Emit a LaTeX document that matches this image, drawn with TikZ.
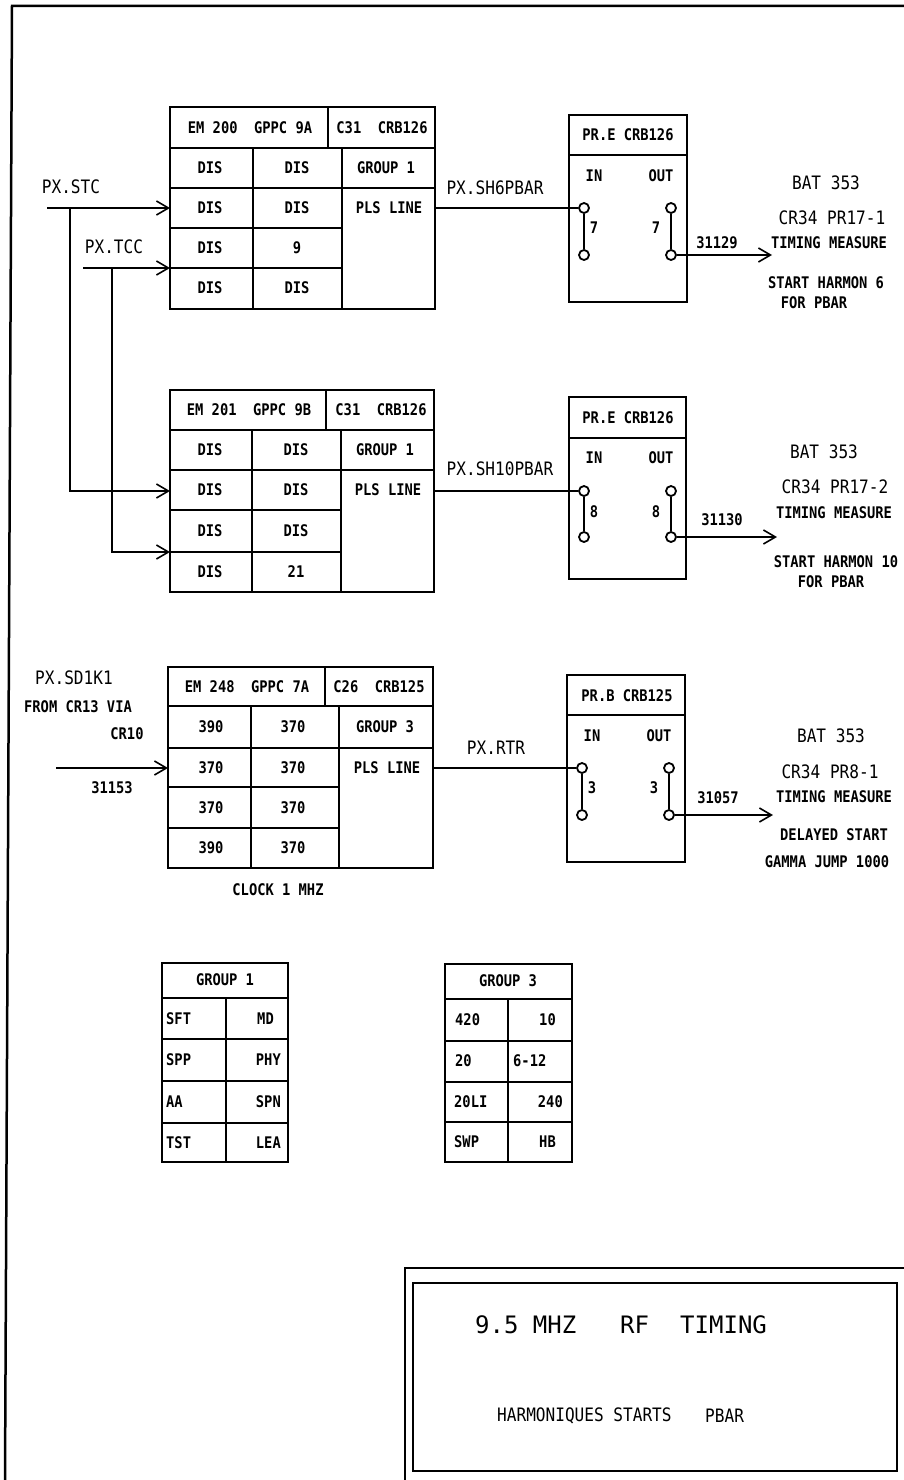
\documentclass[tikz,border=0pt]{standalone}
\usepackage{fontspec}
\usepackage{tikz}
\usetikzlibrary{arrows.meta}
\newfontfamily\tagfam[FakeStretch=0.86]{DejaVu Sans Mono}
\newfontfamily\labfam[FakeStretch=0.87]{DejaVu Sans Mono}
\newfontfamily\headfam{DejaVu Sans Mono}
\newcommand{\tagfont}{\tagfam\bfseries\fontsize{16}{16}\selectfont}
\newcommand{\labfont}{\labfam\fontsize{18.5}{19}\selectfont}
\newcommand{\headfont}{\headfam\fontsize{24}{25}\selectfont}

\begin{document}
\begin{tikzpicture}[x=1pt, y=-1pt,
  frame/.style={line width=2pt},
  grid/.style={line width=1.5pt},
  sig/.style={line width=1.6pt},
  sigarrow/.style={sig, -{Straight Barb[length=12pt, width=14pt]}},
  term/.style={circle, draw, line width=1.8pt, minimum size=10pt, inner sep=0pt},
  tag/.style={font=\tagfont, inner sep=0pt},
  lab/.style={font=\labfont, inner sep=0pt},
  head/.style={font=\headfont, inner sep=0pt}]

  % Page frame
  \useasboundingbox (0,0) rectangle (904,1480);
  \draw[line width=2.5pt] (904,6) -- (12,6) -- (5,1480);

  % EM 200 block
  \begin{scope}[shift={(170,107)}]
    \draw[frame] (0,0) rectangle (265,202);
    \draw[grid] (0,41) -- (265,41) (158,0) -- (158,41) (0,81) -- (265,81)
                (0,121) -- (172,121) (0,161) -- (172,161)
                (83,41) -- (83,202) (172,41) -- (172,202);
    \node[tag] (em200h1) at (80,21) {EM 200~~GPPC 9A};
    \node[tag] (em200h2) at (212,21) {C31~~CRB126};
    \foreach \r/\a/\b [count=\i] in {61/DIS/DIS, 101/DIS/DIS, 141/DIS/9, 181/DIS/DIS} {
      \node[tag] (em200a\i) at (40,\r) {\a};
      \node[tag] (em200b\i) at (127,\r) {\b};
    }
    \node[tag] (em200grp) at (216,61) {GROUP 1};
    \node[tag] (em200pls) at (219,101) {PLS LINE};
    \coordinate (em200in) at (0,101);
    \coordinate (em200low) at (0,161);
    \coordinate (em200out) at (265,101);
  \end{scope}

  % EM 201 block
  \begin{scope}[shift={(170,390)}]
    \draw[frame] (0,0) rectangle (264,202);
    \draw[grid] (0,40) -- (264,40) (156,0) -- (156,40) (0,80) -- (264,80)
                (0,120) -- (171,120) (0,162) -- (171,162)
                (82,40) -- (82,202) (171,40) -- (171,202);
    \node[tag] (em201h1) at (79,20) {EM 201~~GPPC 9B};
    \node[tag] (em201h2) at (211,20) {C31~~CRB126};
    \foreach \r/\a/\b [count=\i] in {60/DIS/DIS, 100/DIS/DIS, 141/DIS/DIS, 182/DIS/21} {
      \node[tag] (em201a\i) at (40,\r) {\a};
      \node[tag] (em201b\i) at (126,\r) {\b};
    }
    \node[tag] (em201grp) at (215,60) {GROUP 1};
    \node[tag] (em201pls) at (218,100) {PLS LINE};
    \coordinate (em201in) at (0,101);
    \coordinate (em201low) at (0,162);
    \coordinate (em201out) at (264,101);
  \end{scope}

  % EM 248 block
  \begin{scope}[shift={(168,667)}]
    \draw[frame] (0,0) rectangle (265,201);
    \draw[grid] (0,39) -- (265,39) (157,0) -- (157,39) (0,81) -- (265,81)
                (0,120) -- (171,120) (0,161) -- (171,161)
                (83,39) -- (83,201) (171,39) -- (171,201);
    \node[tag] (em248h1) at (79,20) {EM 248~~GPPC 7A};
    \node[tag] (em248h2) at (211,20) {C26~~CRB125};
    \foreach \r/\a/\b [count=\i] in {60/390/370, 101/370/370, 141/370/370, 181/390/370} {
      \node[tag] (em248a\i) at (43,\r) {\a};
      \node[tag] (em248b\i) at (125,\r) {\b};
    }
    \node[tag] (em248grp) at (217,60) {GROUP 3};
    \node[tag] (em248pls) at (219,101) {PLS LINE};
    \coordinate (em248in) at (0,101);
    \coordinate (em248out) at (265,101);
  \end{scope}
  \node[tag] (clock) at (278,890) {CLOCK 1 MHZ};

  % PR.E block 1
  \begin{scope}[shift={(569,115)}]
    \draw[frame] (0,0) rectangle (118,187);
    \draw[grid] (0,40) -- (118,40);
    \node[tag] (pr1h) at (59,20) {PR.E CRB126};
    \node[tag] (pr1in) at (25,61) {IN};
    \node[tag] (pr1out) at (92,61) {OUT};
    \node[term] (pr1ia) at (15,93) {};
    \node[term] (pr1ib) at (15,140) {};
    \node[term] (pr1oa) at (102,93) {};
    \node[term] (pr1ob) at (102,140) {};
    \draw[sig] (pr1ia) -- (pr1ib) (pr1oa) -- (pr1ob);
    \node[tag] (pr1n1) at (25,113) {7};
    \node[tag] (pr1n2) at (87,113) {7};
  \end{scope}

  % PR.E block 2
  \begin{scope}[shift={(569,397)}]
    \draw[frame] (0,0) rectangle (117,182);
    \draw[grid] (0,41) -- (117,41);
    \node[tag] (pr2h) at (59,21) {PR.E CRB126};
    \node[tag] (pr2in) at (25,61) {IN};
    \node[tag] (pr2out) at (92,61) {OUT};
    \node[term] (pr2ia) at (15,94) {};
    \node[term] (pr2ib) at (15,140) {};
    \node[term] (pr2oa) at (102,94) {};
    \node[term] (pr2ob) at (102,140) {};
    \draw[sig] (pr2ia) -- (pr2ib) (pr2oa) -- (pr2ob);
    \node[tag] (pr2n1) at (25,115) {8};
    \node[tag] (pr2n2) at (87,115) {8};
  \end{scope}

  % PR.B block 3
  \begin{scope}[shift={(567,675)}]
    \draw[frame] (0,0) rectangle (118,187);
    \draw[grid] (0,40) -- (118,40);
    \node[tag] (pr3h) at (60,21) {PR.B CRB125};
    \node[tag] (pr3in) at (25,61) {IN};
    \node[tag] (pr3out) at (92,61) {OUT};
    \node[term] (pr3ia) at (15,93) {};
    \node[term] (pr3ib) at (15,140) {};
    \node[term] (pr3oa) at (102,93) {};
    \node[term] (pr3ob) at (102,140) {};
    \draw[sig] (pr3ia) -- (pr3ib) (pr3oa) -- (pr3ob);
    \node[tag] (pr3n1) at (25,113) {3};
    \node[tag] (pr3n2) at (87,113) {3};
  \end{scope}

  % Inputs
  \coordinate (stc) at (47,208);
  \coordinate (stcj) at (70,208);
  \coordinate (tcc) at (83,268);
  \coordinate (tccj) at (112,268);
  \coordinate (sd1k1) at (56,768);
  \draw[sigarrow] (stc) -- (em200in);
  \draw[sigarrow] (tcc) -- (em200low);
  \draw[sigarrow] (stcj) |- (em201in);
  \draw[sigarrow] (tccj) |- (em201low);
  \draw[sigarrow] (sd1k1) -- (em248in);
  \node[lab] (stclab) at (71,187) {PX.STC};
  \node[lab] (tcclab) at (114,247) {PX.TCC};
  \node[lab] (sd1k1lab) at (74,678) {PX.SD1K1};
  \node[tag] (fromlab) at (78,707) {FROM CR13 VIA};
  \node[tag] (cr10lab) at (127,734) {CR10};
  \node[tag] (in31153) at (112,788) {31153};

  % Pulse lines
  \draw[sig] (em200out) -- (pr1ia);
  \draw[sig] (em201out) -- (pr2ia);
  \draw[sig] (em248out) -- (pr3ia);
  \node[lab] (sh6lab) at (495,188) {PX.SH6PBAR};
  \node[lab] (sh10lab) at (500,469) {PX.SH10PBAR};
  \node[lab] (rtrlab) at (496,748) {PX.RTR};

  % Outputs
  \coordinate (bat1) at (772,255);
  \coordinate (bat2) at (777,537);
  \coordinate (bat3) at (773,815);
  \draw[sigarrow] (pr1ob) -- (bat1);
  \draw[sigarrow] (pr2ob) -- (bat2);
  \draw[sigarrow] (pr3ob) -- (bat3);
  \node[tag] (out31129) at (717,243) {31129};
  \node[tag] (out31130) at (722,520) {31130};
  \node[tag] (out31057) at (718,798) {31057};

  % Destinations
  \node[lab] (d1a) at (826,183) {BAT 353};
  \node[lab] (d1b) at (832,218) {CR34 PR17-1};
  \node[tag] (d1c) at (829,243) {TIMING MEASURE};
  \node[tag] (d1d) at (826,283) {START HARMON 6};
  \node[tag] (d1e) at (814,303) {FOR PBAR};
  \node[lab] (d2a) at (824,452) {BAT 353};
  \node[lab] (d2b) at (835,487) {CR34 PR17-2};
  \node[tag] (d2c) at (834,513) {TIMING MEASURE};
  \node[tag] (d2d) at (836,562) {START HARMON 10};
  \node[tag] (d2e) at (831,582) {FOR PBAR};
  \node[lab] (d3a) at (831,736) {BAT 353};
  \node[lab] (d3b) at (830,772) {CR34 PR8-1};
  \node[tag] (d3c) at (834,797) {TIMING MEASURE};
  \node[tag] (d3d) at (834,835) {DELAYED START};
  \node[tag] (d3e) at (827,862) {GAMMA JUMP 1000};

  % Group 1 table
  \begin{scope}[shift={(162,963)}]
    \draw[frame] (0,0) rectangle (126,199);
    \draw[grid] (0,35) -- (126,35) (0,76) -- (126,76) (0,118) -- (126,118)
                (0,160) -- (126,160) (64,35) -- (64,199);
    \node[tag] (g1h) at (63,17) {GROUP 1};
    \node[tag, anchor=west] (g1a1) at (4,56) {SFT};
    \node[tag, anchor=east] (g1b1) at (112,56) {MD};
    \node[tag, anchor=west] (g1a2) at (4,97) {SPP};
    \node[tag, anchor=east] (g1b2) at (119,97) {PHY};
    \node[tag, anchor=west] (g1a3) at (4,139) {AA};
    \node[tag, anchor=east] (g1b3) at (119,139) {SPN};
    \node[tag, anchor=west] (g1a4) at (4,180) {TST};
    \node[tag, anchor=east] (g1b4) at (119,180) {LEA};
  \end{scope}

  % Group 3 table
  \begin{scope}[shift={(445,964)}]
    \draw[frame] (0,0) rectangle (127,198);
    \draw[grid] (0,35) -- (127,35) (0,77) -- (127,77) (0,118) -- (127,118)
                (0,158) -- (127,158) (63,35) -- (63,198);
    \node[tag] (g3h) at (63,17) {GROUP 3};
    \node[tag, anchor=west] (g3a1) at (10,56) {420};
    \node[tag, anchor=east] (g3b1) at (111,56) {10};
    \node[tag, anchor=west] (g3a2) at (10,97) {20};
    \node[tag, anchor=west] (g3b2) at (68,97) {6-12};
    \node[tag, anchor=west] (g3a3) at (9,138) {20LI};
    \node[tag, anchor=east] (g3b3) at (118,138) {240};
    \node[tag, anchor=west] (g3a4) at (9,178) {SWP};
    \node[tag, anchor=east] (g3b4) at (111,178) {HB};
  \end{scope}

  % Title block
  \draw[frame] (405,1480) -- (405,1268) -- (904,1268);
  \draw[frame] (413,1283) rectangle (897,1471);
  \node[head, anchor=west] (t1) at (475,1325) {9.5 MHZ};
  \node[head, anchor=west] (t2) at (620,1325) {RF};
  \node[head, anchor=west] (t3) at (680,1325) {TIMING};
  \node[lab, anchor=west] (t4) at (497,1416) {HARMONIQUES STARTS};
  \node[lab, anchor=west] (t5) at (705,1416) {PBAR};
\end{tikzpicture}
\end{document}
